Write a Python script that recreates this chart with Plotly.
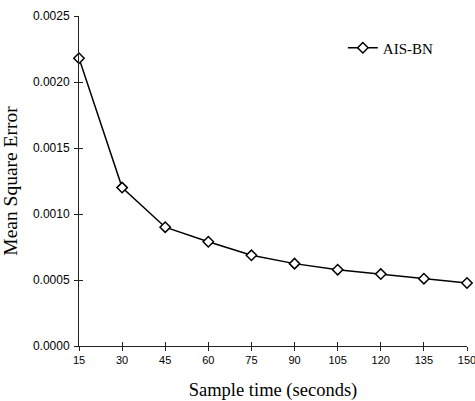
import plotly.graph_objects as go

sample_time = [15, 30, 45, 60, 75, 90, 105, 120, 135, 150]
mse_ais_bn = [0.00218, 0.00120, 0.00090, 0.00079, 0.000687, 0.000624, 0.000578, 0.000545, 0.00051, 0.000477]
x_ticks = [15, 30, 45, 60, 75, 90, 105, 120, 135, 150]
y_ticks = [0.0, 0.0005, 0.0010, 0.0015, 0.0020, 0.0025]

fig = go.Figure()
fig.add_trace(go.Scatter(
    x=sample_time, y=mse_ais_bn, mode="lines+markers", name="AIS-BN",
    line=dict(color="black", width=1.5),
    marker=dict(symbol="diamond", size=8, color="white", line=dict(color="black", width=1.5)),
    cliponaxis=False,
))
# dummy trace for the inside-tick overlay axes
fig.add_trace(go.Scatter(x=sample_time, y=mse_ais_bn, mode="none", xaxis="x2", yaxis="y2",
                         showlegend=False, hoverinfo="skip"))

axis_common = dict(showgrid=False, zeroline=False, showline=True, linecolor="#222",
                   linewidth=1, ticks="outside", ticklen=4, tickcolor="#222", tickwidth=1)

fig.update_layout(
    width=475, height=401,
    margin=dict(l=79, r=8, t=16, b=55),
    paper_bgcolor="white", plot_bgcolor="white",
    showlegend=True,
    legend=dict(x=0.68, y=0.903, xanchor="left", yanchor="middle",
                font=dict(family="Liberation Serif", size=15, color="black"),
                bgcolor="rgba(0,0,0,0)"),
    xaxis=dict(range=[15, 150], tickvals=x_ticks, ticktext=[str(v) for v in x_ticks],
               tickfont=dict(family="Liberation Sans", size=11, color="black"),
               ticklabeloverflow="allow",
               title=dict(text="Sample time (seconds)", standoff=18,
                          font=dict(family="Liberation Serif", size=18.5, color="black")),
               automargin=False, **axis_common),
    yaxis=dict(range=[0, 0.0025], tickvals=y_ticks, tickformat=".4f",
               tickfont=dict(family="Liberation Sans", size=12, color="black"),
               title=dict(text="Mean Square Error", standoff=10,
                          font=dict(family="Liberation Serif", size=19.5, color="black")),
               automargin=False, ticklabelstandoff=2, **axis_common),
    xaxis2=dict(overlaying="x", matches="x", range=[15, 150], tickvals=x_ticks, showticklabels=False,
                showgrid=False, zeroline=False, showline=False, ticks="inside", ticklen=4,
                tickcolor="#222", anchor="y"),
    yaxis2=dict(overlaying="y", matches="y", range=[0, 0.0025], tickvals=y_ticks, showticklabels=False,
                showgrid=False, zeroline=False, showline=False, ticks="inside", ticklen=4,
                tickcolor="#222", anchor="x"),
)

fig.write_html(
    "out.html",
    config={"displayModeBar": False},
    post_script="document.body.style.margin='0';document.body.style.overflow='hidden';",
)
